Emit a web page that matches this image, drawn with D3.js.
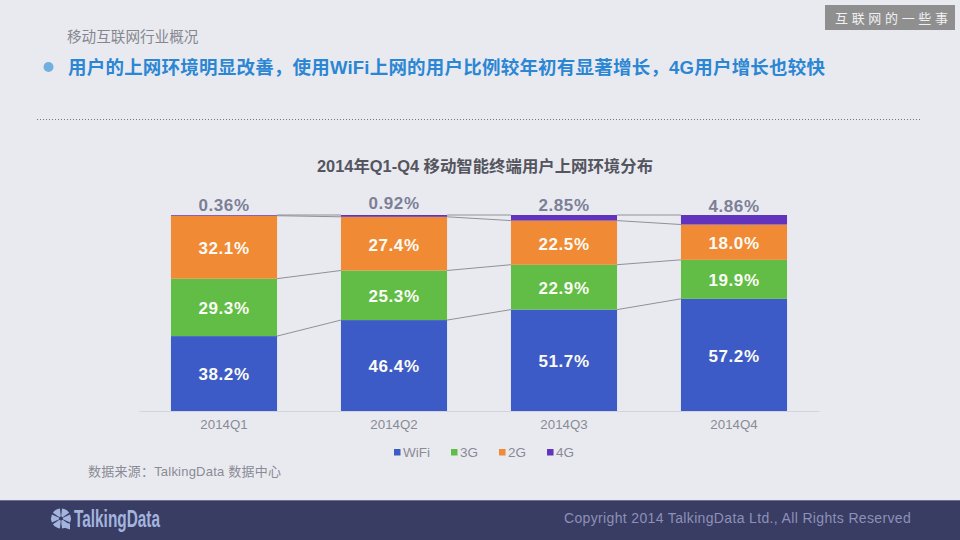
<!DOCTYPE html>
<html>
<head>
<meta charset="utf-8">
<script src="https://cdn.jsdelivr.net/npm/d3@7/dist/d3.min.js"></script>
<style>
  html, body { margin: 0; padding: 0; background: #e9eaf0; }
  svg { display: block; }
  text { font-family: "Liberation Sans", "Noto Sans CJK SC", sans-serif; }
</style>
</head>
<body>
<svg></svg>
<script>
const quarters = ['2014Q1', '2014Q2', '2014Q3', '2014Q4'];
const seriesNames = ['WiFi', '3G', '2G', '4G'];
const wifi = [38.2, 46.4, 51.7, 57.2];
const g3 = [29.3, 25.3, 22.9, 19.9];
const g2 = [32.1, 27.4, 22.5, 18.0];
const g4 = [0.36, 0.92, 2.85, 4.86];
const colors = ['#3d5bc6', '#61bd45', '#f08a35', '#6233bd'];

const width = 960, height = 540;
const svg = d3.select('svg').attr('width', width).attr('height', height);

svg.append('rect').attr('width', width).attr('height', height).attr('fill', '#e9eaf0');

// header
svg.append('text').attr('x', 67).attr('y', 42)
  .attr('font-size', 14.6).attr('fill', '#86868f').text('移动互联网行业概况');
svg.append('circle').attr('cx', 48.5).attr('cy', 67).attr('r', 5).attr('fill', '#71b0de');
svg.append('text').attr('x', 68).attr('y', 74)
  .attr('font-size', 18.5).attr('font-weight', 700).attr('fill', '#2b86d3')
  .attr('textLength', 757).attr('lengthAdjust', 'spacing')
  .text('用户的上网环境明显改善，使用WiFi上网的用户比例较年初有显著增长，4G用户增长也较快');
svg.append('line').attr('x1', 37).attr('x2', 922).attr('y1', 119.5).attr('y2', 119.5)
  .attr('stroke', '#6f7488').attr('stroke-width', 1).attr('stroke-dasharray', '1 2');

svg.append('rect').attr('x', 825).attr('y', 5).attr('width', 130).attr('height', 25).attr('fill', '#8f8f90');
svg.append('text').attr('x', 835).attr('y', 23)
  .attr('font-size', 13).attr('fill', '#f0f0f0')
  .attr('textLength', 113).attr('lengthAdjust', 'spacing')
  .style('font-family', '"Noto Sans CJK SC"').text('互联网的一些事');

// chart
svg.append('text').attr('x', 485).attr('y', 172).attr('text-anchor', 'middle')
  .attr('font-size', 16.4).attr('font-weight', 700).attr('fill', '#54555e')
  .text('2014年Q1-Q4 移动智能终端用户上网环境分布');

const x = d3.scaleBand().domain(quarters).range([139, 819]).paddingInner(0.376).paddingOuter(0.188);
const y = d3.scaleLinear().domain([0, 100]).range([411, 215]);

const rows = quarters.map((q, i) => ({ q, WiFi: wifi[i], '3G': g3[i], '2G': g2[i], '4G': g4[i] }));
const stacked = d3.stack().keys(seriesNames).offset(d3.stackOffsetExpand)(rows);
// stack is normalised to 1 so the four parts fill the full column
const yTop = v => y(v * 100);

const axis = d3.axisBottom(x).tickSize(0).tickPadding(9);
const axisG = svg.append('g').attr('transform', 'translate(0,411)').call(axis);
axisG.select('.domain').attr('stroke', '#d3d5dc');
axisG.selectAll('text').attr('font-size', 13.3).attr('fill', '#8a8b94')
  .style('font-family', '"Liberation Sans"');

svg.append('g').selectAll('g').data(stacked).join('g')
  .attr('fill', (d, i) => colors[i])
  .selectAll('rect').data(d => d).join('rect')
  .attr('x', d => x(d.data.q))
  .attr('width', x.bandwidth())
  .attr('y', d => yTop(d[1]))
  .attr('height', d => yTop(d[0]) - yTop(d[1]));

// connector lines between neighbouring columns
stacked.forEach(s => {
  d3.pairs(s).forEach(([a, b]) => {
    svg.append('line')
      .attr('x1', x(a.data.q) + x.bandwidth()).attr('x2', x(b.data.q))
      .attr('y1', yTop(a[1])).attr('y2', yTop(b[1]))
      .attr('stroke', '#8f909a').attr('stroke-width', 1);
  });
});

// white labels for the three big series
stacked.slice(0, 3).forEach(s => {
  svg.append('g').selectAll('text').data(s).join('text')
    .attr('x', d => x(d.data.q) + x.bandwidth() / 2)
    .attr('y', d => (yTop(d[0]) + yTop(d[1])) / 2 + 1)
    .attr('dy', '.35em')
    .attr('text-anchor', 'middle')
    .attr('font-size', 17).attr('font-weight', 700).attr('letter-spacing', 0.6).attr('fill', '#fbfbf6')
    .text(d => d.data[s.key].toFixed(1) + '%');
});

// 4G labels sit above the column, not quite level in the original
const topLabelShift = [0, -2, 0, 1];
svg.append('g').selectAll('text').data(quarters).join('text')
  .attr('x', d => x(d) + x.bandwidth() / 2)
  .attr('y', (d, i) => 205 + topLabelShift[i])
  .attr('dy', '.35em')
  .attr('text-anchor', 'middle')
  .attr('font-size', 17).attr('font-weight', 700).attr('letter-spacing', 0.6).attr('fill', '#7c7f96')
  .text((d, i) => g4[i].toFixed(2) + '%');

// legend
let legendX = 394;
seriesNames.forEach((name, i) => {
  svg.append('rect').attr('x', legendX).attr('y', 449).attr('width', 6.5).attr('height', 6.5).attr('fill', colors[i]);
  const t = svg.append('text').attr('x', legendX + 9).attr('y', 456.5)
    .attr('font-size', 13.5).attr('fill', '#8a8b94').text(name);
  legendX += 9 + t.node().getComputedTextLength() + 21;
});

svg.append('text').attr('x', 88).attr('y', 476)
  .attr('font-size', 13).attr('fill', '#8a8b94')
  .attr('textLength', 193).attr('lengthAdjust', 'spacing')
  .text('数据来源：TalkingData 数据中心');

// footer
svg.append('rect').attr('y', 500).attr('width', width).attr('height', 40).attr('fill', '#3a3d63');
svg.append('rect').attr('y', 500).attr('width', width).attr('height', 1).attr('fill', '#6c6e96');

const logo = svg.append('g').attr('transform', 'translate(61,518.5)').attr('fill', '#a3b4df');
const wedge = d3.arc().innerRadius(2).outerRadius(10);
d3.range(6).forEach(i => {
  logo.append('path').attr('d', wedge({
    startAngle: i * Math.PI / 3 + 0.1,
    endAngle: (i + 1) * Math.PI / 3 - 0.1
  }));
});
logo.append('path').attr('d', d3.line()([[0, 5], [9, 5], [9, 11], [3, 9]]));

svg.append('text').attr('x', 74).attr('y', 527)
  .attr('font-size', 24).attr('font-weight', 700).attr('fill', '#a3b4df')
  .attr('textLength', 86).attr('lengthAdjust', 'spacingAndGlyphs').text('TalkingData');

svg.append('text').attr('x', 564).attr('y', 523)
  .attr('font-size', 14).attr('letter-spacing', 0.35).attr('fill', '#8d90b8')
  .text('Copyright 2014 TalkingData Ltd., All Rights Reserved');
</script>
</body>
</html>
